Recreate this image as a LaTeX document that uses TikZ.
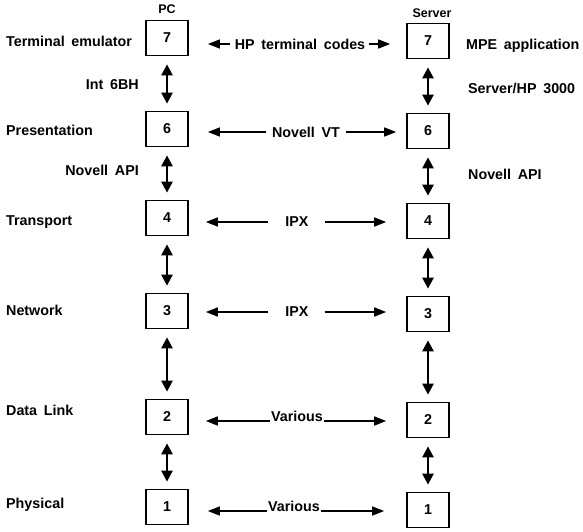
\documentclass[tikz,border=0pt]{standalone}
\usepackage{fontspec}
\setmainfont{Liberation Sans}[WordSpace=1.7]
\usetikzlibrary{arrows.meta}
\begin{document}
\begin{tikzpicture}[x=1pt,y=-1pt,
  font=\bfseries\fontsize{14.3}{16}\selectfont,
  layer/.style={draw,line width=1.7pt,minimum width=42pt,minimum height=35pt,inner sep=0pt},
  lbl/.style={anchor=west,inner sep=0pt},
  tri/.style={-{Triangle[length=12pt,width=9pt]}},
  dbl/.style={{Triangle[length=11pt,width=11pt]}-{Triangle[length=11pt,width=11pt]},line width=2.4pt,shorten <=8pt,shorten >=7pt},
  peer/.style={tri,line width=1.6pt}]
\useasboundingbox (0,0) rectangle (583,532);

% column headings
\node[font=\bfseries\fontsize{12.5}{14}\selectfont] (pc) at (167,9) {PC};
\node[font=\bfseries\fontsize{12.5}{14}\selectfont] (srv) at (432,13) {Server};

% protocol layers, PC side
\node[layer] (L7) at (167,38) {7};
\node[layer] (L6) at (167,129) {6};
\node[layer] (L4) at (167,218) {4};
\node[layer] (L3) at (167,311) {3};
\node[layer] (L2) at (167,417) {2};
\node[layer] (L1) at (167,507) {1};

% protocol layers, server side
\node[layer] (R7) at (428,41) {7};
\node[layer] (R6) at (428,131) {6};
\node[layer] (R4) at (428,221) {4};
\node[layer] (R3) at (428,314) {3};
\node[layer] (R2) at (428,420) {2};
\node[layer] (R1) at (428,510) {1};

% layer names
\node[lbl] (n7) at (6,41) {Terminal emulator};
\node[lbl] (n6) at (6,130) {Presentation};
\node[lbl] (n4) at (6,222) {Transport};
\node[lbl] (n3) at (6,310) {Network};
\node[lbl] (n2) at (6,410) {Data Link};
\node[lbl] (n1) at (6,505) {Physical};

% interface notes
\node[anchor=east,inner sep=0pt] (int) at (139,85) {Int 6BH};
\node[anchor=east,inner sep=0pt] (api1) at (139,170) {Novell API};
\node[lbl] (mpe) at (466,46) {MPE application};
\node[lbl] (hp) at (468,88) {Server/HP 3000};
\node[lbl] (api2) at (468,174) {Novell API};

% vertical interfaces
\foreach \a/\b in {L7/L6,L6/L4,L4/L3,L3/L2,L2/L1,R7/R6,R6/R4,R4/R3,R3/R2,R2/R1}
  \draw[dbl] (\a.south) -- (\b.north);

% peer protocols
\node[inner sep=0pt] (p7) at (300,44) {HP terminal codes};
\draw[peer,shorten <=5pt,shorten >=19pt] (p7.west) -- (p7.west -| L7.east);
\draw[peer,shorten <=4pt,shorten >=16pt] (p7.east) -- (p7.east -| R7.west);

\node[inner sep=0pt] (p6) at (306,132) {Novell VT};
\draw[peer,shorten <=6pt,shorten >=19pt] (p6.west) -- (p6.west -| L6.east);
\draw[peer,shorten <=6pt,shorten >=10pt] (p6.east) -- (p6.east -| R6.west);

\node[inner sep=0pt] (p4) at (297,222) {IPX};
\draw[peer,shorten <=17pt,shorten >=17pt] (p4.west) -- (p4.west -| L4.east);
\draw[peer,shorten <=16pt,shorten >=20pt] (p4.east) -- (p4.east -| R4.west);

\node[inner sep=0pt] (p3) at (297,312) {IPX};
\draw[peer,shorten <=17pt,shorten >=17pt] (p3.west) -- (p3.west -| L3.east);
\draw[peer,shorten <=16pt,shorten >=20pt] (p3.east) -- (p3.east -| R3.west);

\node[inner sep=0pt,anchor=base] (p2) at (297,421) {Various};
\draw[peer,shorten <=1pt,shorten >=17pt] (p2.base west) -- (p2.base west -| L2.east);
\draw[peer,shorten <=1pt,shorten >=20pt] (p2.base east) -- (p2.base east -| R2.west);

\node[inner sep=0pt,anchor=base] (p1) at (294,511) {Various};
\draw[peer,shorten <=1pt,shorten >=19pt] (p1.base west) -- (p1.base west -| L1.east);
\draw[peer,shorten <=1pt,shorten >=22pt] (p1.base east) -- (p1.base east -| R1.west);
\end{tikzpicture}
\end{document}
